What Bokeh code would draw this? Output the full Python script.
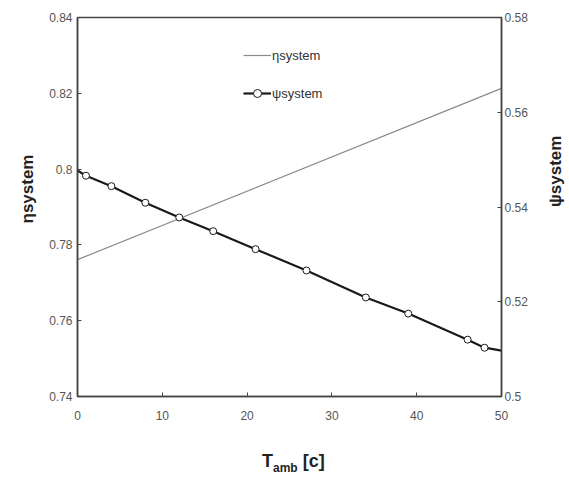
import math
from bokeh.plotting import figure
from bokeh.models import (Range1d, LinearAxis, Legend, LegendItem, Div, Title,
                          FixedTicker, CustomJSTickFormatter)
from bokeh.layouts import column
from bokeh.embed import file_html
from bokeh.resources import INLINE

# ---- data ----
t_eta = [0, 50]
eta_system = [0.7761, 0.8213]

t_psi_line = [0, 1, 4, 8, 12, 16, 21, 27, 34, 39, 46, 48, 50]
psi_line = [0.5477, 0.5466, 0.5444, 0.5409, 0.5378, 0.5349, 0.5311,
            0.5266, 0.5209, 0.5175, 0.5120, 0.5103, 0.5097]
t_psi_marks = [1, 4, 8, 12, 16, 21, 27, 34, 39, 46, 48]
psi_marks = [0.5466, 0.5444, 0.5409, 0.5378, 0.5349, 0.5311,
             0.5266, 0.5209, 0.5175, 0.5120, 0.5103]

x_ticks = [0, 10, 20, 30, 40, 50]
eta_ticks = [0.74, 0.76, 0.78, 0.80, 0.82, 0.84]
psi_ticks = [0.50, 0.52, 0.54, 0.56, 0.58]

FONT = "Liberation Sans"
AXC = "#444444"
TXC = "#555555"

p = figure(frame_width=424, frame_height=379,
           min_border_left=77, min_border_right=68,
           min_border_top=17, min_border_bottom=40,
           x_range=Range1d(0, 50), y_range=Range1d(0.74, 0.84),
           output_backend="svg", toolbar_location=None,
           background_fill_color="white", border_fill_color="white")
p.extra_y_ranges = {"psi": Range1d(0.50, 0.58)}
p.grid.visible = False
p.outline_line_color = AXC
p.outline_line_width = 1.5

fmt = CustomJSTickFormatter(code="return String(Number(tick.toFixed(4)));")

def style_axis(ax, ticks, standoff):
    ax.ticker = FixedTicker(ticks=ticks)
    ax.formatter = fmt
    ax.axis_line_color = AXC
    ax.axis_line_width = 1.5
    ax.major_tick_in = 4
    ax.major_tick_out = 0
    ax.major_tick_line_color = AXC
    ax.minor_tick_line_color = None
    ax.major_label_text_font = FONT
    ax.major_label_text_font_size = "12px"
    ax.major_label_text_color = TXC
    ax.major_label_standoff = standoff

style_axis(p.xaxis[0], x_ticks, 14)
style_axis(p.yaxis[0], eta_ticks, 5)
right = LinearAxis(y_range_name="psi")
style_axis(right, psi_ticks, 3)
p.add_layout(right, "right")

# left title (reads bottom-to-top, placed a little above centre like the reference)
p.add_layout(Title(text="ηsystem", align="left", offset=173, standoff=20,
                   text_font=FONT, text_font_size="17px",
                   text_font_style="bold", text_color="#222222"), "left")

# right title: an axis used only for its label, rotated to read bottom-to-top
right_title = LinearAxis(y_range_name="psi", ticker=FixedTicker(ticks=[]),
                         axis_label="ψsystem", axis_line_color=None,
                         major_tick_line_color=None, minor_tick_line_color=None,
                         major_label_standoff=0, major_tick_in=0,
                         major_tick_out=0, axis_label_standoff=25)
right_title.axis_label_text_font = FONT
right_title.axis_label_text_font_size = "17px"
right_title.axis_label_text_font_style = "bold"
right_title.axis_label_text_color = "#222222"
try:
    right_title.axis_label_orientation = math.pi / 2
except Exception:
    pass
p.add_layout(right_title, "right")

r_eta = p.line(t_eta, eta_system, line_color="#8a8a8a", line_width=1.2)
r_psi = p.line(t_psi_line, psi_line, line_color="#1a1a1a", line_width=2.2,
               y_range_name="psi")
r_psim = p.scatter(t_psi_marks, psi_marks, marker="circle", size=7,
                   fill_color="white", line_color="#1a1a1a", line_width=1,
                   y_range_name="psi")

legend = Legend(items=[LegendItem(label="ηsystem", renderers=[r_eta]),
                       LegendItem(label="ψsystem", renderers=[r_psi, r_psim])],
                location=(166, 293), orientation="vertical",
                border_line_color=None, background_fill_alpha=0,
                padding=0, margin=0, spacing=18, glyph_width=28,
                glyph_height=20, label_height=20, label_standoff=1,
                label_text_font=FONT, label_text_font_size="13px",
                label_text_color="#333333")
p.add_layout(legend, "center")

xlabel = Div(
    text=('<div style="padding-left:262px;padding-top:14px;'
          'font-family:\'Liberation Sans\';font-weight:bold;font-size:18px;'
          'color:#222222;line-height:22px;white-space:nowrap;">'
          'T<sub style="font-size:12px;">amb</sub>&nbsp;[c]</div>'),
    width=569, height=45, margin=0)

layout = column(p, xlabel, spacing=0)
open("out.html", "w").write(file_html(layout, INLINE))
